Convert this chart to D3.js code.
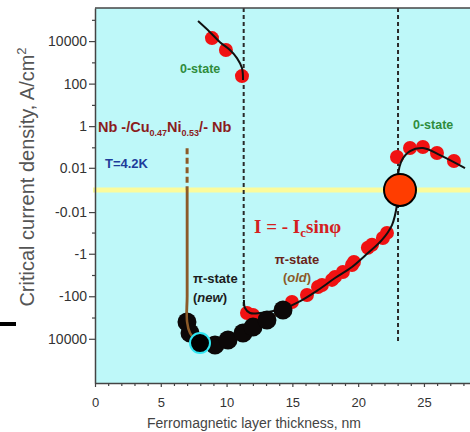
<!DOCTYPE html>
<html>
<head>
<meta charset="utf-8">
<script src="https://cdn.jsdelivr.net/npm/d3@7"></script>
<style>
  html, body { margin: 0; padding: 0; background: #ffffff; }
  svg { display: block; }
</style>
</head>
<body>
<svg id="chart" width="470" height="432"></svg>
<script>
// Critical current density of Nb/CuNi/Nb junctions vs ferromagnetic layer thickness

// 0-state, thin side (positive Ic)
const zeroLeftX = [8.89, 9.95, 11.17];
const zeroLeftV = [13800, 3800, 226];

// 0-state, thick side (positive Ic)
const zeroRightX = [22.95, 23.94, 24.92, 25.99, 27.28];
const zeroRightV = [0.0342, 0.0923, 0.103, 0.0533, 0.0219];

// pi-state (old) measurements (negative Ic)
const piOldX = [11.55, 12.01, 14.97, 16.11, 16.95, 17.25, 18.01, 18.24, 18.84, 19.53, 19.68, 20.74, 21.05, 21.88, 22.19];
const piOldV = [-614, -760, -186, -87, -36.7, -29.5, -17, -12.3, -7.2, -3.4, -2.45, -0.524, -0.379, -0.181, -0.104];

// pi-state (new) measurements (negative Ic)
const piNewX = [6.99, 7.22, 9.12, 10.11, 11.25, 12.01, 13.07, 14.29];
const piNewV = [-1620, -5370, -19500, -11500, -5370, -2820, -1320, -447];

// highlighted new point
const markedX = [7.98];
const markedV = [-15850];

// crossover point (Ic = 0)
const crossX = [23.18];
const crossV = [0];

// fit I = -Ic sin(phi): thin 0-state branch
const fitAX = [7.83, 8.74, 9.50, 10.26, 10.79, 11.17, 11.25];
const fitAV = [87100, 26300, 8900, 3800, 1580, 537, 148];

// fit: pi-state branch through the second 0-state
const fitBX = [11.32, 11.40, 11.78, 12.54, 14.44, 15.73, 16.95, 18.24, 19.53, 20.74, 21.81, 22.57, 22.95, 23.03, 23.03, 23.33, 23.94, 24.92, 26.22, 28.12];
const fitBV = [-151, -357, -614, -614, -357, -151, -51, -13.9, -4.2, -0.93, -0.223, -0.0437, -0.0041, 0, 0.004, 0.0247, 0.0666, 0.0923, 0.0427, 0.0097];

// fit through the new pi-state points
const fitNewX = [7.0, 7.0, 7.0, 7.22, 7.98, 8.6, 9.65, 10.11, 11.25, 12.01, 13.07, 14.29];
const fitNewV = [0, -100, -1620, -5370, -15850, -24000, -17000, -11500, -5370, -2820, -1320, -447];
const fitNewDashX = [7.0, 7.0];
const fitNewDashV = [0.0915, 0];
// part of that fit which stays visible over the first points
const fitNewTopX = [7.0, 7.0, 7.0, 7.22, 7.6];
const fitNewTopV = [0, -100, -1620, -5370, -11000];

// transition thicknesses (dashed guides)
const guideX = [11.3, 23.03];
const guideLowV = [-550, -14000];

// axis ticks
const xTickValues = [0, 5, 10, 15, 20, 25];
const xMinorValues = [1, 2, 3, 4, 6, 7, 8, 9, 11, 12, 13, 14, 16, 17, 18, 19, 21, 22, 23, 24, 26, 27, 28];
const yTickValues = [10000, 100, 1, 0.01, -0.01, -1, -100, -10000];
const yTickLabels = ["10000", "100", "1", "0.01", "-0.01", "-1", "-100", "10000"];
const yMinorValues = [100000, 1000, 10, 0.1, -0.1, -10, -1000];

const zip = (a, b) => a.map((v, i) => [v, b[i]]);

const svg = d3.select("#chart");
const W = 470;
const plotLeft = 95, plotTop = 8, plotBottom = 383;

const x = d3.scaleLinear().domain([0, 28.5]).range([plotLeft, W]);
const y = d3.scaleSymlog().constant(0.001).domain([-1.2e6, 3.6e5]).range([plotBottom, plotTop]);

const SANS = "Arial, 'Liberation Sans', Helvetica, sans-serif";
const SERIF = "'Times New Roman', 'Liberation Serif', Times, serif";

// plot background
svg.append("rect")
  .attr("x", plotLeft).attr("y", plotTop)
  .attr("width", W - plotLeft).attr("height", plotBottom - plotTop)
  .attr("fill", "#bef8f9");

// Ic = 0 line
svg.append("line")
  .attr("x1", plotLeft - 2).attr("x2", W)
  .attr("y1", y(0)).attr("y2", y(0))
  .attr("stroke", "#fbfb9c").attr("stroke-width", 5);

// dashed guides at the transitions
svg.append("g").selectAll("line")
  .data(zip(guideX, guideLowV))
  .join("line")
  .attr("x1", d => x(d[0])).attr("x2", d => x(d[0]))
  .attr("y1", plotTop).attr("y2", d => y(d[1]))
  .attr("stroke", "#2a2a2a").attr("stroke-width", 2)
  .attr("stroke-dasharray", "4,3");

const line = d3.line()
  .x(d => x(d[0])).y(d => y(d[1]))
  .curve(d3.curveCatmullRom.alpha(0.5));

// new pi-state fit, dashed above Ic = 0
svg.append("path")
  .attr("d", d3.line().x(d => x(d[0])).y(d => y(d[1]))(zip(fitNewDashX, fitNewDashV)))
  .attr("fill", "none").attr("stroke", "#8c5a28").attr("stroke-width", 3)
  .attr("stroke-dasharray", "6,3.5");

// red measurements
const red = svg.append("g").attr("fill", "#f01212");
red.selectAll(".zl").data(zip(zeroLeftX, zeroLeftV)).join("circle").attr("class", "zl")
  .attr("cx", d => x(d[0])).attr("cy", d => y(d[1])).attr("r", 7);
red.selectAll(".zr").data(zip(zeroRightX, zeroRightV)).join("circle").attr("class", "zr")
  .attr("cx", d => x(d[0])).attr("cy", d => y(d[1])).attr("r", 7);
red.selectAll(".po").data(zip(piOldX, piOldV)).join("circle").attr("class", "po")
  .attr("cx", d => x(d[0])).attr("cy", d => y(d[1])).attr("r", 7);

// fitted curves
svg.append("path").attr("d", line(zip(fitAX, fitAV)))
  .attr("fill", "none").attr("stroke", "#111").attr("stroke-width", 2);
svg.append("path").attr("d", line(zip(fitBX, fitBV)))
  .attr("fill", "none").attr("stroke", "#111").attr("stroke-width", 2);

svg.append("path").attr("d", line(zip(fitNewX, fitNewV)))
  .attr("fill", "none").attr("stroke", "#8c5a28").attr("stroke-width", 2.5);

// new pi-state points
svg.append("g").selectAll("circle")
  .data(zip(piNewX, piNewV)).join("circle")
  .attr("cx", d => x(d[0])).attr("cy", d => y(d[1])).attr("r", 9.5)
  .attr("fill", "#0c0808");

svg.append("path").attr("d", line(zip(fitNewTopX, fitNewTopV)))
  .attr("fill", "none").attr("stroke", "#8c5a28").attr("stroke-width", 2.5);

svg.append("g").selectAll("circle")
  .data(zip(markedX, markedV)).join("circle")
  .attr("cx", d => x(d[0])).attr("cy", d => y(d[1])).attr("r", 10)
  .attr("fill", "#000").attr("stroke", "#2fe6f2").attr("stroke-width", 2);

svg.append("g").selectAll("circle")
  .data(zip(crossX, crossV)).join("circle")
  .attr("cx", d => x(d[0])).attr("cy", d => y(d[1])).attr("r", 16)
  .attr("fill", "#ff3d00").attr("stroke", "#000").attr("stroke-width", 2);

// annotations
const ann = svg.append("g").attr("font-family", SANS).attr("font-weight", "bold");

ann.append("text").attr("x", 180).attr("y", 73).attr("font-size", 12.5)
  .attr("fill", "#2f8c3c").text("0-state");
ann.append("text").attr("x", 413).attr("y", 129).attr("font-size", 12.5)
  .attr("fill", "#2f8c3c").text("0-state");

const nb = ann.append("text").attr("x", 98).attr("y", 132).attr("font-size", 14.5).attr("fill", "#8b1c1c");
nb.append("tspan").text("Nb -/Cu");
nb.append("tspan").attr("font-size", 9).attr("dy", 4).text("0.47");
nb.append("tspan").attr("dy", -4).text("Ni");
nb.append("tspan").attr("font-size", 9).attr("dy", 4).text("0.53");
nb.append("tspan").attr("dy", -4).text("/- Nb");

ann.append("text").attr("x", 105).attr("y", 168).attr("font-size", 13)
  .attr("fill", "#1e3c9a").text("T=4.2K");

const formula = svg.append("text").attr("x", 254).attr("y", 233)
  .attr("font-family", SERIF).attr("font-weight", "bold").attr("font-size", 19).attr("fill", "#d42020");
formula.append("tspan").text("I = - I");
formula.append("tspan").attr("font-size", 13).attr("dy", 4).text("c");
formula.append("tspan").attr("dy", -4).text("sinφ");

ann.append("text").attr("x", 297).attr("y", 264).attr("text-anchor", "middle").attr("font-size", 13)
  .attr("fill", "#6a2418").text("π-state");
const old = ann.append("text").attr("x", 297).attr("y", 282).attr("text-anchor", "middle").attr("font-size", 13)
  .attr("fill", "#8c5a28");
old.append("tspan").text("(");
old.append("tspan").attr("font-style", "italic").text("old");
old.append("tspan").text(")");

ann.append("text").attr("x", 193).attr("y", 283).attr("font-size", 13)
  .attr("fill", "#1c1c1c").text("π-state");
const nw = ann.append("text").attr("x", 193).attr("y", 302).attr("font-size", 13)
  .attr("fill", "#1c1c1c");
nw.append("tspan").text("(");
nw.append("tspan").attr("font-style", "italic").text("new");
nw.append("tspan").text(")");

// axes
const axisColor = "#444";
const gx = svg.append("g").attr("transform", `translate(0,${plotBottom})`)
  .call(d3.axisBottom(x).tickValues(xTickValues).tickSize(4).tickPadding(11).tickSizeOuter(0));
svg.append("g").attr("transform", `translate(0,${plotBottom})`)
  .call(d3.axisBottom(x).tickValues(xMinorValues).tickSize(3).tickFormat("").tickSizeOuter(0))
  .select(".domain").remove();

const gy = svg.append("g").attr("transform", `translate(${plotLeft},0)`)
  .call(d3.axisLeft(y).tickValues(yTickValues).tickFormat((d, i) => yTickLabels[i]).tickSize(6).tickPadding(2).tickSizeOuter(0));
svg.append("g").attr("transform", `translate(${plotLeft},0)`)
  .call(d3.axisLeft(y).tickValues(yMinorValues).tickSize(3).tickFormat("").tickSizeOuter(0))
  .select(".domain").remove();

svg.selectAll(".domain").attr("stroke", axisColor).attr("stroke-width", 1.5);
svg.selectAll(".tick line").attr("stroke", axisColor).attr("stroke-width", 1.2);
gx.selectAll("text").attr("font-family", SANS).attr("font-size", 13).attr("fill", "#333");
gy.selectAll("text").attr("font-family", SANS).attr("font-size", 14).attr("fill", "#333");

// top frame
svg.append("line").attr("x1", plotLeft).attr("x2", W).attr("y1", plotTop).attr("y2", plotTop)
  .attr("stroke", axisColor).attr("stroke-width", 1.5);

// axis titles
svg.append("text").attr("x", 254).attr("y", 428).attr("text-anchor", "middle")
  .attr("font-family", SANS).attr("font-size", 14).attr("fill", "#444")
  .text("Ferromagnetic layer thickness, nm");

const yt = svg.append("text").attr("transform", "translate(34,177) rotate(-90)").attr("text-anchor", "middle")
  .attr("font-family", SANS).attr("font-size", 20).attr("fill", "#555");
yt.append("tspan").text("Critical current density, A/cm");
yt.append("tspan").attr("font-size", 13).attr("dy", -8).text("2");

// side mark
svg.append("rect").attr("x", 0).attr("y", 322).attr("width", 16).attr("height", 4).attr("fill", "#000");
</script>
</body>
</html>
